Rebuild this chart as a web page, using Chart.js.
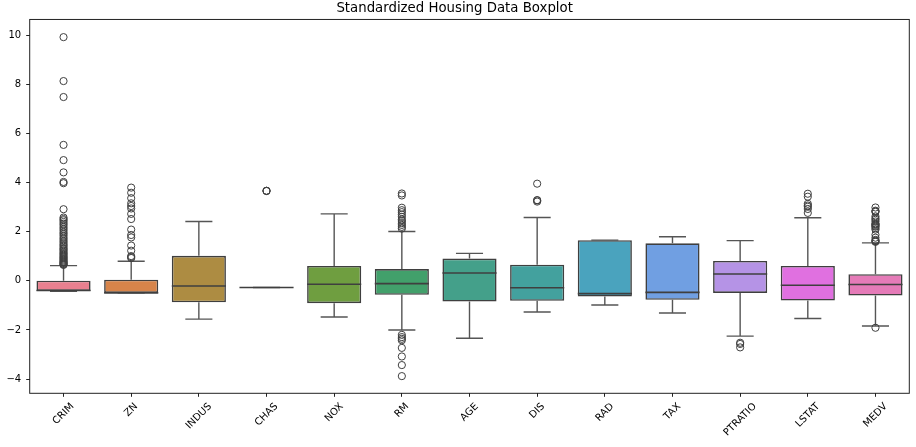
<!DOCTYPE html>
<html>
<head>
<meta charset="utf-8">
<script src="https://cdn.jsdelivr.net/npm/chart.js@4/dist/chart.umd.min.js"></script>
<style>
  html, body { margin: 0; padding: 0; background: #fff; }
  #wrap { width: 916px; height: 447px; position: relative; }
</style>
</head>
<body>
<div id="wrap"><canvas id="boxChart"></canvas></div>
<script>
// valores (dados padronizados)
const labels = ["CRIM", "ZN", "INDUS", "CHAS", "NOX", "RM", "AGE", "DIS", "RAD", "TAX", "PTRATIO", "LSTAT", "MEDV"];
const q1 = [-0.41, -0.49, -0.87, -0.27, -0.91, -0.57, -0.84, -0.81, -0.64, -0.77, -0.49, -0.80, -0.60];
const median = [-0.39, -0.49, -0.21, -0.27, -0.14, -0.11, 0.32, -0.28, -0.52, -0.47, 0.28, -0.18, -0.15];
const q3 = [0.01, 0.05, 1.02, -0.27, 0.61, 0.48, 0.91, 0.66, 1.66, 1.53, 0.81, 0.61, 0.27];
const whiskerLow = [-0.42, -0.49, -1.56, -0.27, -1.47, -2.00, -2.34, -1.27, -0.98, -1.31, -2.25, -1.53, -1.84];
const whiskerHigh = [0.62, 0.80, 2.42, -0.27, 2.73, 2.01, 1.12, 2.58, 1.66, 1.80, 1.64, 2.57, 1.55];

// outliers
const outCRIM = [9.93, 8.14, 7.49, 5.54, 4.92, 4.42, 4.03, 3.98, 2.92, 2.58, 2.52, 2.47, 2.40, 2.33, 2.27, 2.19,
  2.12, 2.05, 1.97, 1.91, 1.84, 1.76, 1.70, 1.63, 1.57, 1.50, 1.45, 1.39, 1.33, 1.29, 1.24, 1.18, 1.13,
  1.09, 1.04, 0.99, 0.95, 0.91, 0.87, 0.83, 0.79, 0.76, 0.73, 0.70, 0.67, 0.65];
const outZN = [0.93, 0.97, 1.01, 1.23, 1.44, 1.77, 1.87, 2.09, 2.52, 2.73, 2.95, 3.05, 3.16, 3.37, 3.59, 3.80];
const outCHAS = [3.67, 3.67, 3.66];
const outRM = [2.13, 2.20, 2.28, 2.35, 2.44, 2.50, 2.61, 2.70, 2.80, 2.88, 2.98, 3.48, 3.56,
  -2.20, -2.29, -2.36, -2.42, -2.73, -3.08, -3.43, -3.88];
const outDIS = [3.96, 3.29, 3.28, 3.23];
const outPTRATIO = [-2.52, -2.57, -2.71];
const outLSTAT = [3.55, 3.43, 3.14, 3.07, 3.02, 2.93, 2.77];
const outMEDV = [2.99, 2.86, 2.83, 2.81, 2.63, 2.55, 2.49, 2.42, 2.33, 2.31, 2.28, 2.24, 2.21, 2.15, 2.09,
  1.88, 1.76, 1.67, 1.64, 1.61, 1.59, -1.91];
const outliers = [outCRIM, outZN, [], outCHAS, [], outRM, [], outDIS, [], [], outPTRATIO, outLSTAT, outMEDV];

const yTicks = [-4, -2, 0, 2, 4, 6, 8, 10];
const boxColors = ["#e8808f", "#d7844a", "#ad8c42", "#8f9640", "#6f9e40", "#42a06b", "#44a08a",
  "#43a19e", "#4aa3be", "#709fe2", "#b593e6", "#e070e0", "#e57bb8"];

const lineColor = "#3f3f3f";
const whiskerColor = "#555555";

// whiskers, medians, frame and rotated x labels
const boxPlugin = {
  id: "boxWhiskers",
  afterDatasetDraw(chart, args) {
    if (args.index !== 0) return;
    const ctx = chart.ctx;
    const y = chart.scales.y;
    args.meta.data.forEach((bar, i) => {
      const x = bar.x;
      const half = bar.width / 2;
      const cap = bar.width / 4;
      const yHi = y.getPixelForValue(whiskerHigh[i]);
      const yLo = y.getPixelForValue(whiskerLow[i]);
      ctx.save();
      ctx.strokeStyle = whiskerColor;
      ctx.lineWidth = 1.4;
      ctx.beginPath();
      ctx.moveTo(x, y.getPixelForValue(q3[i]));
      ctx.lineTo(x, yHi);
      ctx.moveTo(x, y.getPixelForValue(q1[i]));
      ctx.lineTo(x, yLo);
      ctx.moveTo(x - cap, yHi);
      ctx.lineTo(x + cap, yHi);
      ctx.moveTo(x - cap, yLo);
      ctx.lineTo(x + cap, yLo);
      ctx.stroke();
      const ym = y.getPixelForValue(median[i]);
      ctx.strokeStyle = lineColor;
      ctx.lineWidth = 1.6;
      ctx.beginPath();
      ctx.moveTo(x - half, ym);
      ctx.lineTo(x + half, ym);
      ctx.stroke();
      ctx.restore();
    });
  },
  afterDraw(chart) {
    const ctx = chart.ctx;
    const a = chart.chartArea;
    ctx.save();
    ctx.strokeStyle = "#222";
    ctx.lineWidth = 1;
    ctx.strokeRect(a.left, a.top, a.right - a.left, a.bottom - a.top);

    const xs = chart.scales.x;
    ctx.font = "10px 'DejaVu Sans'";
    ctx.fillStyle = "#000";
    ctx.textAlign = "center";
    ctx.textBaseline = "middle";
    labels.forEach((lab, i) => {
      const px = xs.getPixelForValue(i);
      const w = ctx.measureText(lab).width;
      const h = 11.6;
      const cy = a.bottom + 7.5 + (w + h) / (2 * Math.SQRT2);
      ctx.save();
      ctx.translate(px, cy);
      ctx.rotate(-Math.PI / 4);
      ctx.fillText(lab, 0, 0);
      ctx.restore();
    });
    ctx.restore();
  }
};

document.addEventListener("DOMContentLoaded", function () {
  Chart.defaults.font.family = "'DejaVu Sans', sans-serif";
  Chart.defaults.font.size = 10;
  Chart.defaults.color = "#000";

  const outlierPoints = [];
  outliers.forEach((list, i) => {
    list.forEach((v) => outlierPoints.push({ x: labels[i], y: v }));
  });

  const ctx = document.getElementById("boxChart").getContext("2d");
  new Chart(ctx, {
    type: "bar",
    data: {
      labels: labels,
      datasets: [
        {
          label: "box",
          data: labels.map((_, i) => [q1[i], q3[i]]),
          backgroundColor: boxColors,
          borderColor: lineColor,
          borderWidth: 1.6,
          borderSkipped: false,
          barPercentage: 0.8,
          categoryPercentage: 1.0,
          order: 1,
        },
        {
          type: "scatter",
          label: "outliers",
          data: outlierPoints,
          showLine: false,
          pointStyle: "circle",
          pointRadius: 3.6,
          pointBorderWidth: 1,
          pointBorderColor: lineColor,
          pointBackgroundColor: "rgba(0,0,0,0)",
          order: 0,
        },
      ],
    },
    options: {
      responsive: true,
      maintainAspectRatio: false,
      animation: false,
      layout: { padding: { left: 0, right: 6.7, top: 0, bottom: 0 } },
      plugins: {
        legend: { display: false },
        tooltip: { enabled: false },
        title: {
          display: true,
          text: "Standardized Housing Data Boxplot",
          color: "#000",
          font: { size: 13.3, weight: "normal", lineHeight: 1.2 },
          padding: { top: 0.5, bottom: 3 },
        },
      },
      scales: {
        x: {
          type: "category",
          offset: true,
          afterFit: (s) => { s.height = 53.7; },
          border: { display: false },
          grid: { display: true, drawOnChartArea: false, drawTicks: true, tickLength: 3.5, offset: false, color: "#222" },
          ticks: { display: false },
        },
        y: {
          min: -4.58,
          max: 10.65,
          afterFit: (s) => { s.width = 29.7; },
          afterBuildTicks: (s) => { s.ticks = yTicks.map((v) => ({ value: v })); },
          border: { display: false },
          grid: { display: true, drawOnChartArea: false, drawTicks: true, tickLength: 3.5, color: "#222" },
          ticks: {
            padding: 5,
            callback: (v) => String(v).replace("-", "\u2212"),
          },
        },
      },
    },
    plugins: [boxPlugin],
  });
});
</script>
</body>
</html>
